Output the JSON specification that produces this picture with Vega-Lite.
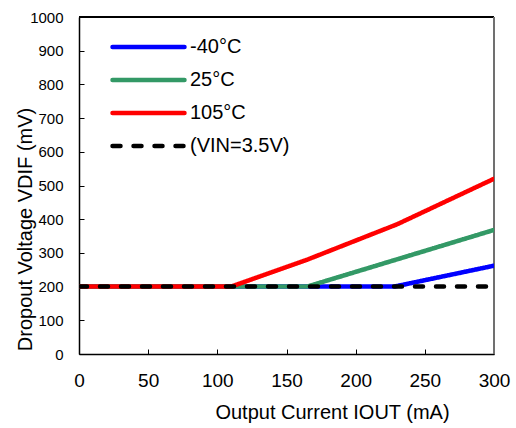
{
  "$schema": "https://vega.github.io/schema/vega-lite/v6.json",
  "width": 415,
  "height": 337,
  "autosize": {"type": "none"},
  "padding": {"left": 79, "top": 17, "right": 22, "bottom": 74},
  "background": "white",
  "config": {
    "font": "Liberation Sans",
    "view": {"stroke": null},
    "axis": {
      "gridColor": "#c8c8c8",
      "gridWidth": 1,
      "domainColor": "#000000",
      "domainWidth": 1.5,
      "tickColor": "#000000",
      "tickWidth": 1,
      "labelColor": "#000000",
      "titleColor": "#000000",
      "titleFontWeight": "normal",
      "titleFontSize": 20,
      "labelOverlap": false
    }
  },
  "data": {
    "values": [
      {"series": "-40°C", "current": 0, "voltage": 200},
      {"series": "-40°C", "current": 228, "voltage": 200},
      {"series": "-40°C", "current": 300, "voltage": 262},
      {"series": "25°C", "current": 0, "voltage": 200},
      {"series": "25°C", "current": 165, "voltage": 200},
      {"series": "25°C", "current": 300, "voltage": 368},
      {"series": "105°C", "current": 0, "voltage": 200},
      {"series": "105°C", "current": 110, "voltage": 200},
      {"series": "105°C", "current": 165, "voltage": 280},
      {"series": "105°C", "current": 230, "voltage": 385},
      {"series": "105°C", "current": 300, "voltage": 520},
      {"series": "(VIN=3.5V)", "current": 0, "voltage": 200},
      {"series": "(VIN=3.5V)", "current": 300, "voltage": 200}
    ]
  },
  "layer": [
    {
      "mark": {"type": "rule", "color": "#000000", "strokeWidth": 1.5},
      "encoding": {
        "y": {
          "datum": 1000, "type": "quantitative",
          "scale": {"domain": [0, 1000], "nice": false},
          "axis": {
            "values": [0, 100, 200, 300, 400, 500, 600, 700, 800, 900, 1000],
            "format": "d",
            "title": "Dropout Voltage VDIF (mV)",
            "titleX": -48, "titleY": 212, "titleAlign": "center", "titleBaseline": "alphabetic", "titleAngle": 270,
            "labelFontSize": 15, "labelPadding": 21, "tickSize": -5,
            "labelOverlap": false, "labelFlush": false
          }
        }
      }
    },
    {
      "mark": {"type": "rule", "color": "#707070", "strokeWidth": 2},
      "encoding": {
        "x": {
          "datum": 300, "type": "quantitative",
          "scale": {"domain": [0, 300], "nice": false},
          "axis": {
            "values": [0, 50, 100, 150, 200, 250, 300],
            "format": "d",
            "title": "Output Current IOUT (mA)",
            "titleX": 253, "titleY": 64, "titleAlign": "center", "titleBaseline": "alphabetic",
            "labelFontSize": 19, "labelPadding": 22, "tickSize": -5,
            "labelFlush": false, "labelOverlap": false
          }
        }
      }
    },
    {
      "mark": {"type": "line", "strokeWidth": 4.5, "strokeCap": "round", "clip": true},
      "encoding": {
        "x": {
          "field": "current", "type": "quantitative",
          "scale": {"domain": [0, 300], "nice": false},
          "axis": {
            "values": [0, 50, 100, 150, 200, 250, 300],
            "format": "d",
            "title": "Output Current IOUT (mA)",
            "titleX": 253, "titleY": 64, "titleAlign": "center", "titleBaseline": "alphabetic",
            "labelFontSize": 19, "labelPadding": 22, "tickSize": -5,
            "labelFlush": false, "labelOverlap": false
          }
        },
        "y": {
          "field": "voltage", "type": "quantitative",
          "scale": {"domain": [0, 1000], "nice": false},
          "axis": {
            "values": [0, 100, 200, 300, 400, 500, 600, 700, 800, 900, 1000],
            "format": "d",
            "title": "Dropout Voltage VDIF (mV)",
            "titleX": -48, "titleY": 212, "titleAlign": "center", "titleBaseline": "alphabetic", "titleAngle": 270,
            "labelFontSize": 15, "labelPadding": 21, "tickSize": -5,
            "labelOverlap": false, "labelFlush": false
          }
        },
        "color": {
          "field": "series", "type": "nominal",
          "scale": {"domain": ["-40°C", "25°C", "105°C", "(VIN=3.5V)"], "range": ["#0000ff", "#339966", "#ff0000", "#000000"]},
          "legend": {
            "title": null,
            "orient": "none", "legendX": 31, "legendY": 20,
            "symbolType": "stroke", "symbolSize": 5184, "symbolStrokeWidth": 4.5,
            "labelFontSize": 20, "labelColor": "#000000", "labelOffset": 3,
            "rowPadding": 13, "clipHeight": 20,
            "encode": {"symbols": {"update": {"strokeCap": {"value": "round"}}}}
          }
        },
        "strokeDash": {
          "field": "series", "type": "nominal",
          "scale": {"domain": ["-40°C", "25°C", "105°C", "(VIN=3.5V)"], "range": [[1, 0], [1, 0], [1, 0], [8, 13]]},
          "legend": {
            "title": null,
            "orient": "none", "legendX": 31, "legendY": 20,
            "symbolType": "stroke", "symbolSize": 5184, "symbolStrokeWidth": 4.5,
            "labelFontSize": 20, "labelColor": "#000000", "labelOffset": 3,
            "rowPadding": 13, "clipHeight": 20,
            "encode": {"symbols": {"update": {"strokeCap": {"value": "round"}}}}
          }
        },
        "order": {"field": "current", "type": "quantitative"}
      }
    }
  ]
}
